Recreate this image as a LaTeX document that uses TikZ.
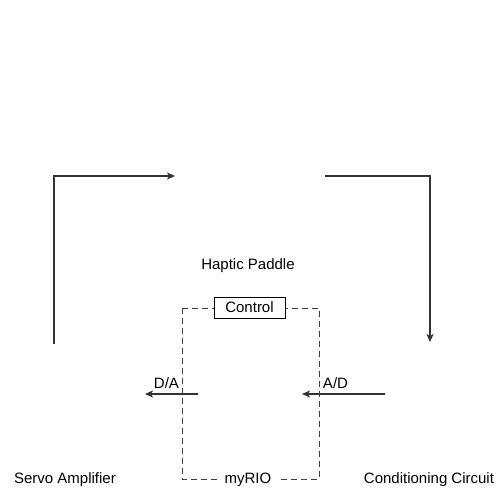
\documentclass[tikz,border=0pt]{standalone}
\usepackage{fontspec}
\setmainfont{Liberation Sans}
\usetikzlibrary{arrows.meta}
\tikzset{
	lbl/.style={font=\fontsize{15}{17}\selectfont, inner sep=1pt},
	sig/.style={line width=1.3pt, draw=black!80, -{Stealth[length=8pt,width=7pt,inset=2pt]}},
	bound/.style={line width=0.8pt, dashed, dash pattern=on 6pt off 4pt, draw=black!75}
}
\begin{document}
\begin{tikzpicture}[x=1pt,y=-1pt]
		\useasboundingbox (0,0) rectangle (496,489);
		% labels
		\node[lbl] (servo) at (65,480) {Servo Amplifier};
		\node[lbl] (cond) at (429,480) {Conditioning Circuit};
		\node[lbl] (paddle) at (248,266) {Haptic Paddle};
		% myRIO box
		\draw[bound] (182,308) rectangle (319,479);
		\node[lbl, draw, line width=0.8pt, fill=white, minimum width=71pt, minimum height=21pt, inner sep=0pt] (ctrl) at (249.5,307.5) {Control};
		\node[lbl, fill=white, inner sep=6pt] (rio) at (248,480) {myRIO};
		% free ends
		\coordinate (s1) at (54,344);
		\coordinate (s2) at (175,176);
		\coordinate (c1) at (325,176);
		\coordinate (c2) at (430,342);
		\coordinate (da1) at (198,394);
		\coordinate (da2) at (145,394);
		\coordinate (ad1) at (385,394);
		\coordinate (ad2) at (302,394);
		\draw[sig] (s1) |- (s2);
		\draw[sig] (c1) -| (c2);
		\draw[sig] (da1) -- (da2) node[lbl, midway, above=4pt, xshift=-5pt] (da) {D/A};
		\draw[sig] (ad1) -- (ad2) node[lbl, midway, above=4pt, xshift=-8pt] (ad) {A/D};
\end{tikzpicture}
\end{document}
